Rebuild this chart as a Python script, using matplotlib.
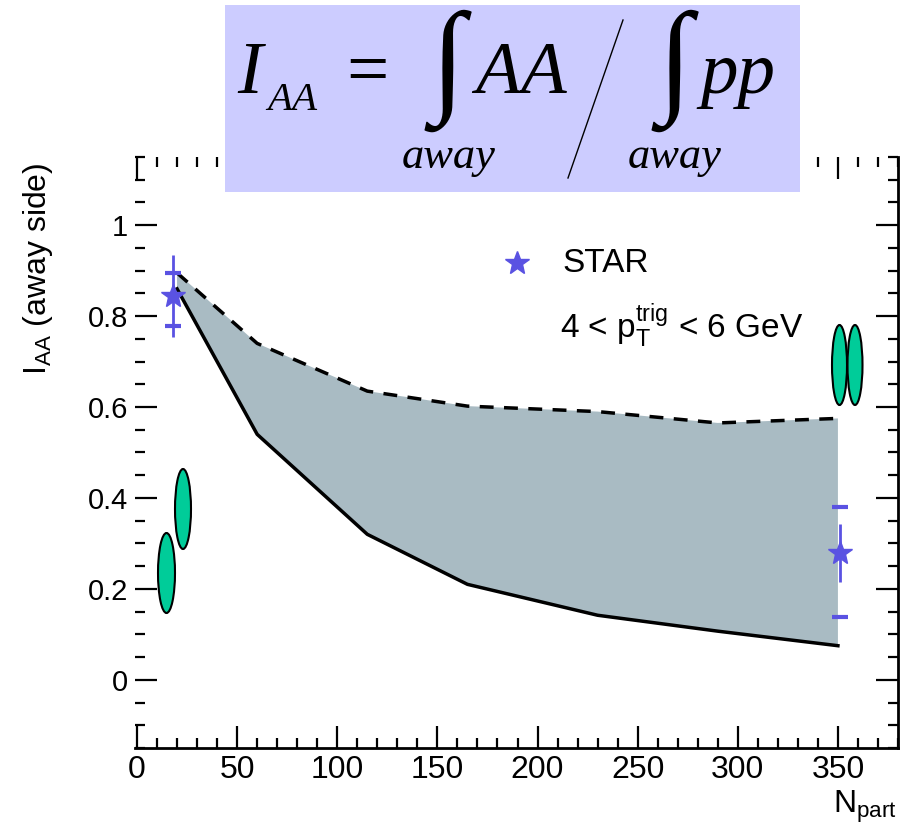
import matplotlib
matplotlib.use("Agg")
import matplotlib.pyplot as plt
from matplotlib.patches import Ellipse, Rectangle
from matplotlib.lines import Line2D
from matplotlib.ticker import MultipleLocator

plt.rcParams['font.family'] = ['Liberation Sans', 'DejaVu Sans']

# theory band (upper dashed edge, lower solid edge)
npart_band = [20, 60, 115, 165, 230, 290, 350]
band_upper = [0.895, 0.74, 0.635, 0.602, 0.59, 0.565, 0.575]
band_lower = [0.86, 0.54, 0.32, 0.21, 0.142, 0.107, 0.075]

# STAR data points
star_npart = [18, 351]
star_iaa = [0.845, 0.279]
star_stat = [0.09, 0.063]
star_sys_lo = [0.778, 0.138]
star_sys_hi = [0.894, 0.38]

xticks = [0, 50, 100, 150, 200, 250, 300, 350]
yticks = [0, 0.2, 0.4, 0.6, 0.8, 1.0]
ytick_labels = ['0', '0.2', '0.4', '0.6', '0.8', '1']

W, H = 908, 833
blue = '#5a52e2'


def px(x, y):
    return x / W, 1 - y / H


fig = plt.figure(figsize=(W / 100, H / 100), dpi=100)
ax = fig.add_axes([135 / W, (H - 748) / H, (898 - 135) / W, (748 - 157) / H])

ax.fill(npart_band + npart_band[::-1], band_upper + band_lower[::-1],
        color='#a9bbc3', lw=0, zorder=1)
ax.plot(npart_band, band_upper, color='black', lw=2.5, ls=(0, (4, 3)), zorder=2)
ax.plot(npart_band, band_lower, color='black', lw=2.5, zorder=2)

ax.errorbar(star_npart, star_iaa, yerr=star_stat, fmt='none', ecolor=blue,
            elinewidth=2, capsize=0, zorder=4)
ax.plot(star_npart, star_sys_lo, ls='none', marker='_', ms=11, mew=3, color=blue, zorder=4)
ax.plot(star_npart, star_sys_hi, ls='none', marker='_', ms=11, mew=3, color=blue, zorder=4)
ax.plot(star_npart, star_iaa, ls='none', marker='*', ms=18, color=blue, mec=blue, zorder=5)

ax.set_xlim(-1, 380)
ax.set_ylim(-0.15, 1.15)
ax.set_xticks(xticks)
ax.set_yticks(yticks)
ax.set_yticklabels(ytick_labels)
ax.xaxis.set_minor_locator(MultipleLocator(10))
ax.yaxis.set_minor_locator(MultipleLocator(0.05))
ax.tick_params(which='both', direction='in', top=True, right=True, width=1.6,
               colors='black')
ax.tick_params(which='major', length=16, pad=5)
ax.tick_params(which='minor', length=7.5)
ax.tick_params(axis='x', labelsize=23)
ax.tick_params(axis='y', labelsize=21)
ax.spines['left'].set_visible(False)
ax.spines['top'].set_visible(False)
ax.spines['right'].set_linewidth(2)
ax.spines['bottom'].set_linewidth(2)

# key
ax.plot([0.5006], [0.8206], transform=ax.transAxes, marker='*', ms=18,
        color=blue, ls='none', clip_on=False)
fig.text(*px(562, 263), 'STAR', fontsize=24, va='center', ha='left')
fig.text(*px(560, 326), r'4 < $\mathregular{p_T^{trig}}$ < 6 GeV', fontsize=24,
         va='center', ha='left')

# axis titles
fig.text(*px(38, 269), r'$\mathregular{I_{AA}}$ (away side)', fontsize=23,
         rotation=90, ha='center', va='center')
fig.text(*px(897, 813), r'$\mathregular{N_{part}}$', fontsize=23,
         ha='right', va='baseline')

# annotation ellipses
for cx, cy, w, h in [(166.5, 573, 17, 80), (183, 509, 16, 80),
                     (839.5, 365, 15, 80), (855, 365, 15, 80)]:
    fig.add_artist(Ellipse(px(cx, cy), w / W, h / H, transform=fig.transFigure,
                           facecolor='#00cc99', edgecolor='black', lw=1.5, zorder=6))

# formula box
fig.add_artist(Rectangle(px(225, 192), (800 - 225) / W, (192 - 5) / H,
                         transform=fig.transFigure, facecolor='#ccccff',
                         edgecolor='none', zorder=5))
serif = dict(family='Liberation Serif', style='italic', zorder=7)
fig.text(*px(237, 93), 'I', fontsize=54, va='baseline', ha='left', **serif)
fig.text(*px(267, 110), 'AA', fontsize=29.5, va='baseline', ha='left', **serif)
fig.text(*px(367, 93), '=', fontsize=54, va='baseline', ha='center',
         family='Liberation Serif', zorder=7)
fig.text(*px(448, 71), '\u222b', fontsize=90, va='center', ha='center',
         family='Liberation Serif', zorder=7)
fig.text(*px(475, 93), 'AA', fontsize=54, va='baseline', ha='left', **serif)
fig.text(*px(402, 168), 'away', fontsize=32, va='baseline', ha='left', **serif)
fig.add_artist(Line2D([623 / W, 568 / W], [1 - 20 / H, 1 - 178 / H],
                      transform=fig.transFigure, color='black', lw=1, zorder=7))
fig.text(*px(675, 71), '\u222b', fontsize=90, va='center', ha='center',
         family='Liberation Serif', zorder=7)
fig.text(*px(700, 93), 'pp', fontsize=54, va='baseline', ha='left', **serif)
fig.text(*px(628, 168), 'away', fontsize=32, va='baseline', ha='left', **serif)

fig.savefig('out.png', dpi=100)
plt.close(fig)
